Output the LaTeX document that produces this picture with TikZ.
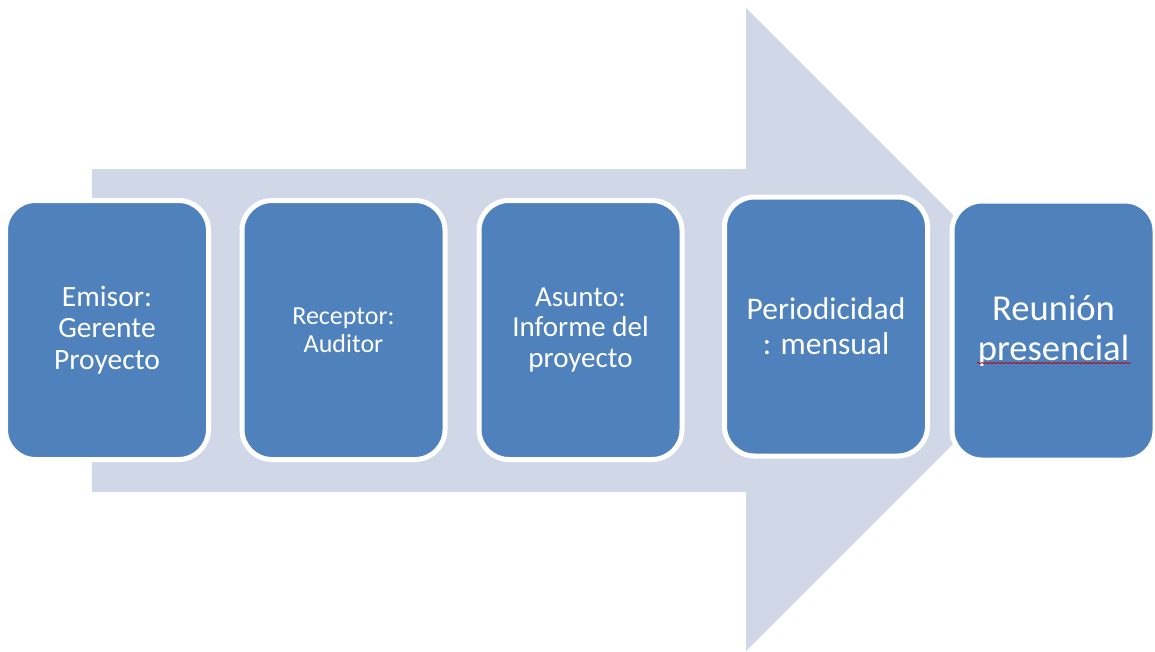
\documentclass[tikz,border=0pt]{standalone}
\usepackage{fontspec}
\setmainfont{Carlito}
\usetikzlibrary{decorations.pathmorphing}
\definecolor{arrowfill}{HTML}{D0D8E8}
\definecolor{boxblue}{HTML}{4F81BD}
\tikzset{
  stepbox/.style={draw=white, line width=5pt, fill=boxblue, rounded corners=30pt,
    minimum width=203pt, minimum height=259pt, inner sep=0pt, outer sep=0pt,
    text=white, align=center},
}
\begin{document}
\begin{tikzpicture}[x=1pt,y=-1pt]
\useasboundingbox (0,0) rectangle (1155,651);
% big background arrow
\fill[arrowfill] (92,169) -- (746,169) -- (746,8) -- (1067.5,329.5) -- (746,651) -- (746,492) -- (92,492) -- cycle;
% boxes
\node[stepbox, font={\fontsize{29.5}{31.5}\selectfont}] (b1) at (107,330) {Emisor:\\Gerente\\Proyecto};
\node[stepbox, font={\fontsize{26}{28}\selectfont}] (b2) at (343.5,330) {Receptor:\\Auditor};
\node[stepbox, font={\fontsize{29}{30.5}\selectfont}] (b3) at (580.5,330) {Asunto:\\Informe del\\proyecto};
\node[stepbox, font={\fontsize{31.5}{35}\selectfont}] (b4) at (826,326.5) {Periodicidad\\: mensual};
\node[stepbox, font={\fontsize{36.6}{40}\selectfont}] (b5) at (1053.5,330.5) {Reunión\\presencial};
% spell-check underline
\coordinate (u1) at (977,363);
\coordinate (u2) at (1131,363);
\draw[red!75!black, line width=0.8pt, decorate, decoration={snake, amplitude=0.6pt, segment length=4pt}] (u1) -- (u2);
\end{tikzpicture}
\end{document}
